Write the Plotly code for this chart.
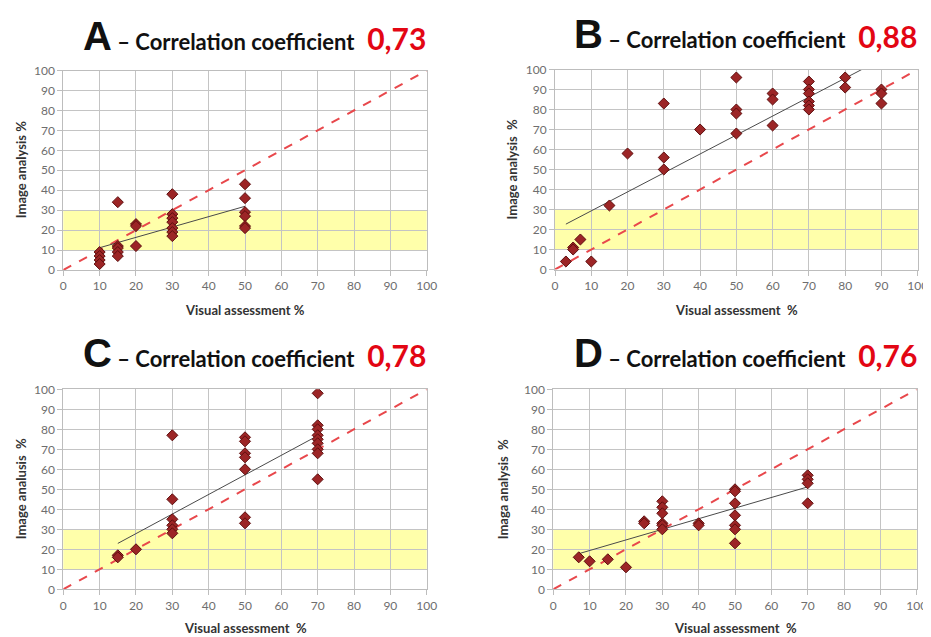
import numpy as np
import plotly.graph_objects as go

# ---------------- data ----------------
a_x = [10, 10, 10, 10, 15, 15, 15, 15, 15, 20, 20, 20,
       30, 30, 30, 30, 30, 30, 30, 50, 50, 50, 50, 50, 50]
a_y = [9, 7, 5, 3, 34, 12, 11, 9, 7, 23, 22, 12,
       38, 28, 26, 24, 21, 19, 17, 43, 36, 29, 27, 22, 21]

b_x = [3, 5, 5, 7, 10, 15, 20, 30, 30, 30, 40, 50, 50, 50, 50,
       60, 60, 60, 70, 70, 70, 70, 70, 70, 80, 80, 90, 90, 90]
b_y = [4, 11, 10, 15, 4, 32, 58, 83, 56, 50, 70, 96, 80, 78, 68,
       88, 85, 72, 94, 90, 88, 84, 82, 80, 96, 91, 90, 88, 83]

c_x = [15, 15, 20, 30, 30, 30, 30, 30, 30, 50, 50, 50, 50, 50, 50, 50,
       70, 70, 70, 70, 70, 70, 70, 70, 70]
c_y = [17, 16, 20, 77, 45, 35, 32, 30, 28, 76, 74, 68, 66, 60, 36, 33,
       98, 82, 80, 77, 75, 73, 70, 68, 55]

d_x = [7, 10, 15, 20, 25, 25, 30, 30, 30, 30, 30, 30, 40, 40,
       50, 50, 50, 50, 50, 50, 50, 70, 70, 70, 70]
d_y = [16, 14, 15, 11, 34, 33, 44, 41, 38, 33, 32, 30, 33, 32,
       50, 49, 43, 37, 32, 30, 23, 57, 55, 53, 43]

panel_letters = ["A", "B", "C", "D"]
correlations = ["0,73", "0,88", "0,78", "0,76"]
y_titles = ["Image analysis %", "Image analysis  %", "Image analusis  %", "Imaga analysis  %"]
x_titles = ["Visual assessment %", "Visual assessment  %", "Visual assessment  %", "Visual assessment  %"]
band = [10, 30]          # highlighted yellow band on the y axis
identity = [0, 100]      # y = x reference line
tick_vals = list(range(0, 101, 10))

series = [(a_x, a_y), (b_x, b_y), (c_x, c_y), (d_x, d_y)]

# ---------------- layout geometry (page pixels) ----------------
PAGE_W, PAGE_H = 931, 637
OFF = 8                       # default body margin of the html page
W, H = PAGE_W - OFF, PAGE_H - OFF


def px(x):
    return (x - OFF) / W


def py(y):
    return (OFF + H - y) / H


boxes = [  # (x0, x1, ytop, ybottom) in page pixels
    (63.3, 426.7, 70.5, 270.0),
    (555.0, 917.7, 69.5, 269.5),
    (63.3, 426.7, 389.3, 589.3),
    (553.3, 916.7, 389.3, 589.3),
]
title_pos = [(255, 36), (745, 34), (255, 353), (745, 353)]
ytitle_x = [21, 511, 21, 503]
xtitle_y = [310, 310, 628, 628]

fig = go.Figure()
LABEL_FONT = "Lato, 'Open Sans', sans-serif"
annotations = []
shapes = []

for i, ((xs, ys), (x0, x1, yt, yb)) in enumerate(zip(series, boxes)):
    n = i + 1
    xa = "x" if n == 1 else f"x{n}"
    ya = "y" if n == 1 else f"y{n}"
    xkey = "xaxis" if n == 1 else f"xaxis{n}"
    ykey = "yaxis" if n == 1 else f"yaxis{n}"

    axis_common = dict(
        range=[0, 100], tickvals=tick_vals, showgrid=True, gridcolor="#C4C4C4",
        gridwidth=1, zeroline=False, showline=True, linecolor="#BDBDBD",
        mirror=True, ticks="outside", ticklen=5, tickcolor="#BDBDBD",
        tickfont=dict(family=LABEL_FONT, size=12, color="#6E6E6E"),
        fixedrange=True, automargin=False,
    )
    fig.update_layout({
        xkey: dict(domain=[px(x0), px(x1)], anchor=ya, **axis_common),
        ykey: dict(domain=[py(yb), py(yt)], anchor=xa, **axis_common),
    })

    # yellow band
    shapes.append(dict(type="rect", xref=f"{xa} domain", yref=ya, x0=0, x1=1,
                       y0=band[0], y1=band[1], fillcolor="#FFFFAA",
                       line=dict(width=0), layer="below"))

    # y = x dashed line
    fig.add_trace(go.Scatter(x=identity, y=identity, mode="lines", xaxis=xa, yaxis=ya,
                             line=dict(color="#E8484C", width=2, dash="dash"),
                             showlegend=False, hoverinfo="skip"))

    # linear trend line
    slope, intercept = np.polyfit(xs, ys, 1)
    tx = [min(xs), max(xs)]
    ty = [slope * v + intercept for v in tx]
    fig.add_trace(go.Scatter(x=tx, y=ty, mode="lines", xaxis=xa, yaxis=ya,
                             line=dict(color="#4A4A4A", width=1),
                             showlegend=False, hoverinfo="skip"))

    # data markers
    fig.add_trace(go.Scatter(x=xs, y=ys, mode="markers", xaxis=xa, yaxis=ya,
                             marker=dict(symbol="diamond", size=8.5, color="#9C2526",
                                         line=dict(color="#5E0E0E", width=1)),
                             showlegend=False))

    # panel title
    tx_, ty_ = title_pos[i]
    annotations.append(dict(
        xref="paper", yref="paper", x=px(tx_), y=py(ty_),
        xanchor="center", yanchor="middle", showarrow=False,
        text=(f"<span style='font-family:\"Liberation Sans\", Arial; font-size:40px'>"
              f"<b>{panel_letters[i]}</b></span>"
              f"<b> – Correlation coefficient </b>"
              f"<span style='color:#E30613; font-size:30px'><b> {correlations[i]}</b></span>"),
        font=dict(family=LABEL_FONT, size=22, color="#111111"),
    ))

    # x-axis title
    annotations.append(dict(
        xref="paper", yref="paper", x=px((x0 + x1) / 2), y=py(xtitle_y[i]),
        xanchor="center", yanchor="middle", showarrow=False,
        text=f"<b>{x_titles[i]}</b>",
        font=dict(family=LABEL_FONT, size=13, color="#333333"),
    ))
    # y-axis title
    annotations.append(dict(
        xref="paper", yref="paper", x=px(ytitle_x[i]), y=py((yt + yb) / 2),
        xanchor="center", yanchor="middle", showarrow=False, textangle=-90,
        text=f"<b>{y_titles[i]}</b>",
        font=dict(family=LABEL_FONT, size=13, color="#333333"),
    ))

fig.update_layout(
    width=W, height=H, margin=dict(l=0, r=0, t=0, b=0),
    paper_bgcolor="white", plot_bgcolor="white",
    annotations=annotations, shapes=shapes, showlegend=False,
)

fig.write_html("out.html")
